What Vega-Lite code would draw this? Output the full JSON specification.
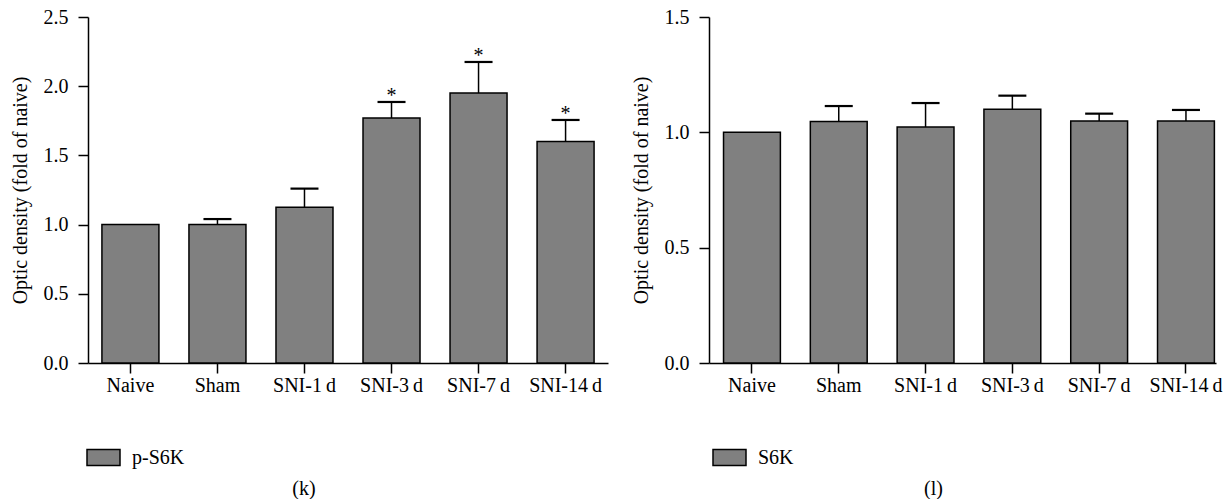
{
  "$schema": "https://vega.github.io/schema/vega-lite/v6.json",
  "background": "white",
  "padding": {"left": 10, "top": 7, "right": 5, "bottom": 0},
  "spacing": 23,
  "config": {
    "view": {"stroke": null},
    "font": "Liberation Serif",
    "axis": {
      "labelFont": "Liberation Serif", "labelFontSize": 20, "labelColor": "black",
      "titleFont": "Liberation Serif", "titleFontSize": 20, "titleFontWeight": "normal", "titleColor": "black",
      "domainColor": "black", "domainWidth": 1.5, "tickColor": "black", "tickWidth": 1.5, "tickSize": 10, "grid": false
    },
    "axisX": {"labelAngle": 0, "labelPadding": 2},
    "axisY": {"labelPadding": 10, "titlePadding": 13},
    "legend": {"labelFont": "Liberation Serif", "labelFontSize": 20, "labelColor": "black"},
    "title": {"font": "Liberation Serif", "fontSize": 20, "fontWeight": "normal", "color": "black"}
  },
  "resolve": {"scale": {"color": "independent", "x": "independent", "y": "independent"}, "legend": {"color": "independent"}},
  "hconcat": [
    {
      "width": 520, "height": 346,
      "title": {"text": "(k)", "orient": "bottom", "anchor": "middle", "frame": "bounds", "dx": -5, "offset": 10},
      "data": {"values": [
        {"group": "Naive", "protein": "p-S6K", "value": 1.0, "upper": null, "sig": ""},
        {"group": "Sham", "protein": "p-S6K", "value": 1.0, "upper": 1.04, "sig": ""},
        {"group": "SNI-1\u2009d", "protein": "p-S6K", "value": 1.125, "upper": 1.26, "sig": ""},
        {"group": "SNI-3\u2009d", "protein": "p-S6K", "value": 1.77, "upper": 1.886, "sig": "*"},
        {"group": "SNI-7\u2009d", "protein": "p-S6K", "value": 1.95, "upper": 2.175, "sig": "*"},
        {"group": "SNI-14\u2009d", "protein": "p-S6K", "value": 1.6, "upper": 1.756, "sig": "*"}
      ]},
      "encoding": {
        "x": {"field": "group", "type": "nominal", "sort": null, "scale": {"paddingInner": 0.345, "paddingOuter": 0.16}, "axis": {"title": null}}
      },
      "layer": [
        {
          "mark": {"type": "bar", "stroke": "black", "strokeWidth": 1.5},
          "encoding": {
            "y": {"field": "value", "type": "quantitative", "scale": {"domain": [0, 2.5], "nice": false}, "axis": {"values": [0, 0.5, 1, 1.5, 2, 2.5], "format": ".1f", "title": "Optic density (fold of naive)"}},
            "color": {"field": "protein", "type": "nominal", "scale": {"domain": ["p-S6K"], "range": ["#808080"]},
              "legend": {"title": null, "orient": "none", "legendX": -2, "legendY": 423, "symbolType": "M-1,-0.485H1V0.485H-1Z", "symbolSize": 1089, "symbolStrokeColor": "black", "symbolStrokeWidth": 1.5, "symbolFillColor": "#808080", "labelOffset": 11}}
          }
        },
        {
          "transform": [{"filter": "datum.upper != null"}],
          "mark": {"type": "rule", "color": "black", "strokeWidth": 1.5},
          "encoding": {"y": {"field": "value", "type": "quantitative"}, "y2": {"field": "upper"}}
        },
        {
          "transform": [{"filter": "datum.upper != null"}],
          "mark": {"type": "tick", "color": "black", "thickness": 2.2, "size": 28, "opacity": 1},
          "encoding": {"y": {"field": "upper", "type": "quantitative"}}
        },
        {
          "mark": {"type": "text", "font": "Liberation Serif", "fontSize": 20, "baseline": "alphabetic", "color": "black", "dy": 0},
          "encoding": {"y": {"field": "upper", "type": "quantitative"}, "text": {"field": "sig"}}
        }
      ]
    },
    {
      "width": 507, "height": 346,
      "title": {"text": "(l)", "orient": "bottom", "anchor": "middle", "frame": "bounds", "dx": 7, "offset": 10},
      "data": {"values": [
        {"group": "Naive", "protein": "S6K", "value": 1.0, "upper": null},
        {"group": "Sham", "protein": "S6K", "value": 1.047, "upper": 1.114},
        {"group": "SNI-1\u2009d", "protein": "S6K", "value": 1.023, "upper": 1.127},
        {"group": "SNI-3\u2009d", "protein": "S6K", "value": 1.1, "upper": 1.159},
        {"group": "SNI-7\u2009d", "protein": "S6K", "value": 1.049, "upper": 1.081},
        {"group": "SNI-14\u2009d", "protein": "S6K", "value": 1.049, "upper": 1.097}
      ]},
      "encoding": {
        "x": {"field": "group", "type": "nominal", "sort": null, "scale": {"paddingInner": 0.345, "paddingOuter": 0.093, "align": 0.9}, "axis": {"title": null}}
      },
      "layer": [
        {
          "mark": {"type": "bar", "stroke": "black", "strokeWidth": 1.5},
          "encoding": {
            "y": {"field": "value", "type": "quantitative", "scale": {"domain": [0, 1.5], "nice": false}, "axis": {"values": [0, 0.5, 1, 1.5], "format": ".1f", "title": "Optic density (fold of naive)"}},
            "color": {"field": "protein", "type": "nominal", "scale": {"domain": ["S6K"], "range": ["#808080"]},
              "legend": {"title": null, "orient": "none", "legendX": 3, "legendY": 423, "symbolType": "M-1,-0.485H1V0.485H-1Z", "symbolSize": 1089, "symbolStrokeColor": "black", "symbolStrokeWidth": 1.5, "symbolFillColor": "#808080", "labelOffset": 11}}
          }
        },
        {
          "transform": [{"filter": "datum.upper != null"}],
          "mark": {"type": "rule", "color": "black", "strokeWidth": 1.5},
          "encoding": {"y": {"field": "value", "type": "quantitative"}, "y2": {"field": "upper"}}
        },
        {
          "transform": [{"filter": "datum.upper != null"}],
          "mark": {"type": "tick", "color": "black", "thickness": 2.2, "size": 28, "opacity": 1},
          "encoding": {"y": {"field": "upper", "type": "quantitative"}}
        }
      ]
    }
  ]
}
